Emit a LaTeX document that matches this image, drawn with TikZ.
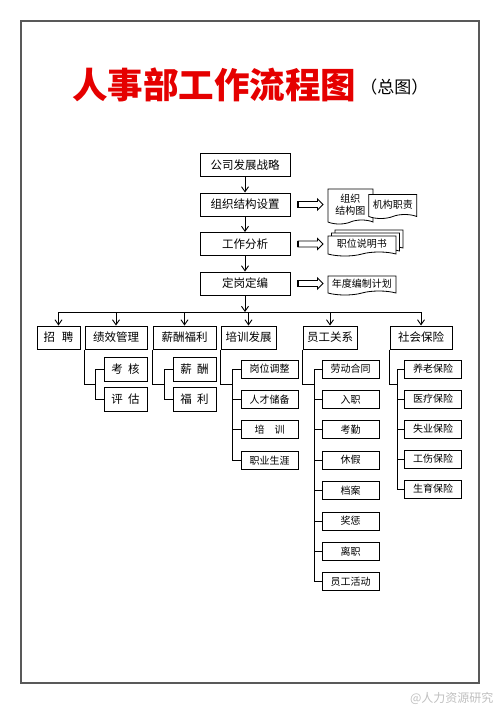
\documentclass[tikz,border=0pt]{standalone}
\usepackage{fontspec}
\setmainfont{Noto Sans CJK SC}
\usetikzlibrary{positioning, arrows.meta, calc, shapes.symbols, shapes.arrows, shadows}

\begin{document}
\begin{tikzpicture}[
    x=1pt, y=-1pt,
    >={Straight Barb[length=5pt, width=7pt]},
    font=\fontsize{11.5}{13}\selectfont,
    box/.style={
        rectangle, draw, line width=1pt,
        minimum width=90pt, minimum height=23pt,
        inner sep=0pt, align=center, fill=white
    },
    group/.style={
        rectangle, draw, line width=1pt,
        minimum height=23pt, inner sep=0pt, align=center
    },
    pair/.style={
        rectangle, draw, line width=1pt,
        minimum width=43pt, minimum height=24pt, inner sep=0pt
    },
    item/.style={
        rectangle, draw, line width=0.9pt,
        minimum width=57pt, minimum height=18pt, inner sep=0pt,
        font=\fontsize{10}{12}\selectfont
    },
    doc/.style={
        tape, tape bend top=none, tape bend height=4pt,
        draw, line width=0.8pt, fill=white,
        inner sep=1pt, align=center,
        font=\fontsize{10}{11.5}\selectfont
    },
    hollow/.style={
        single arrow, draw, line width=0.8pt, fill=white,
        minimum height=25pt, inner xsep=0pt, inner ysep=2.6pt,
        single arrow head extend=2.6pt, single arrow head indent=0pt
    },
    arrow/.style={->, line width=0.9pt},
    link/.style={line width=0.9pt}
]

\useasboundingbox (0,0) rectangle (500,707);

%% ─── FRAME + TITLE ──────────────────────────────────────────────────────

\draw[line width=2pt, draw=black!65] (21,21) rectangle (479,683);

\node[inner sep=0pt, text=red!90!black,
      font=\fontsize{35.5}{35.5}\selectfont\bfseries] (title) at (214,85)
    {人事部工作流程图};
\node[inner sep=0pt, anchor=west, font=\fontsize{17}{17}\selectfont]
    (whole) at ([xshift=4pt, yshift=-2pt]title.east) {（总图）};

%% ─── MAIN CHAIN ─────────────────────────────────────────────────────────

\node[box]                       (strat)  at (245,165) {公司发展战略};
\node[box, below=15.5pt of strat] (org)    {组织结构设置};
\node[box, below=15.5pt of org]   (job)    {工作分析};
\node[box, below=15.5pt of job]   (quota)  {定岗定编};

%% ─── OUTPUT DOCUMENTS ───────────────────────────────────────────────────

\node[hollow] (h1) at ($(org.east)+(18.5,0)$)   {};
\node[hollow] (h2) at ($(job.east)+(18.5,0)$)   {};
\node[hollow] (h3) at ($(quota.east)+(18.5,0)$) {};

% thick tail ends of the hollow arrows
\draw[line width=2.2pt] (h1.before tail) -- (h1.after tail);
\draw[line width=2.2pt] (h2.before tail) -- (h2.after tail);
\draw[line width=2.2pt] (h3.before tail) -- (h3.after tail);

\node[doc, minimum width=45pt, minimum height=35pt, right=4pt of h1]
    (chart) {组织\\结构图};
\node[doc, minimum width=48pt, minimum height=24pt, right=-5pt of chart]
    (duty) {机构职责};
\node[doc, minimum width=68pt, minimum height=20pt, right=4pt of h2,
      double copy shadow={shadow xshift=3.5pt, shadow yshift=3pt,
                          draw, fill=white, opacity=1}]
    (spec) {职位说明书};
\node[doc, minimum width=68pt, minimum height=19pt, right=4pt of h3]
    (yearly) {年度编制计划};

%% ─── CHAIN ARROWS ───────────────────────────────────────────────────────

\coordinate (bus) at (245,312);

\draw[arrow] (strat) -- (org);
\draw[arrow] (org)   -- (job);
\draw[arrow] (job)   -- (quota);
\draw[arrow] (quota) -- (bus);

%% ─── FUNCTION ROW ───────────────────────────────────────────────────────

\node[group, minimum width=43pt] (recruit) at (58.5,337.5)  {招\hspace{0.6em}聘};
\node[group, minimum width=62pt] (perf)    at (116,337.5)   {绩效管理};
\node[group, minimum width=63pt] (pay)     at (184.5,337.5) {薪酬福利};
\node[group, minimum width=55pt] (train)   at (248.5,337.5) {培训发展};
\node[group, minimum width=54pt] (rel)     at (330,337.5)   {员工关系};
\node[group, minimum width=62pt] (social)  at (421,337.5)   {社会保险};

\draw[link] (recruit.north |- bus) -- (social.north |- bus);

\draw[arrow] (recruit.north |- bus) -- (recruit);
\draw[arrow] (perf.north |- bus)    -- (perf);
\draw[arrow] (pay.north |- bus)     -- (pay);
\draw[arrow] (train.north |- bus)   -- (train);
\draw[arrow] (rel.north |- bus)     -- (rel);
\draw[arrow] (social.north |- bus)  -- (social);

%% ─── PERFORMANCE + PAY ──────────────────────────────────────────────────

\node[pair]                     (assess) at (125.5,369) {考\hspace{0.45em}核};
\node[pair, below=5pt of assess] (review) {评\hspace{0.45em}估};

\node[pair]                     (salary) at (194.5,369) {薪\hspace{0.45em}酬};
\node[pair, below=5pt of salary] (bonus)  {福\hspace{0.45em}利};

\coordinate (perfj) at ($(assess.west)!0.5!(review.west)+(-8,0)$);
\coordinate (payj)  at ($(salary.west)!0.5!(bonus.west)+(-8,0)$);

\draw[link] (perf.south west) |- (perfj);
\draw[link] (assess.west) -- ++(-8,0) |- (review.west);

\draw[link] (pay.south west) |- (payj);
\draw[link] (salary.west) -- ++(-8,0) |- (bonus.west);

%% ─── TRAINING ───────────────────────────────────────────────────────────

\node[item]                       (post)   at (269.5,369) {岗位调整};
\node[item, below=11.5pt of post]   (talent) {人才储备};
\node[item, below=11.5pt of talent] (coach)  {培\hspace{1em}训};
\node[item, below=11.5pt of coach]  (career) {职业生涯};

\coordinate (trainj) at ($(post.west)!0.5!(talent.west)+(-8,0)$);

\draw[link] (train.south west) |- (trainj);
\draw[link] (post.west) -- ++(-8,0) |- (career.west);
\draw[link] (talent.west) -- ++(-8,0);
\draw[link] (coach.west)  -- ++(-8,0);

%% ─── EMPLOYEE RELATIONS ─────────────────────────────────────────────────

\node[item]                        (contract) at (350.5,369) {劳动合同};
\node[item, below=11.5pt of contract] (entry)    {入职};
\node[item, below=11.5pt of entry]    (attend)   {考勤};
\node[item, below=11.5pt of attend]   (leave)    {休假};
\node[item, below=11.5pt of leave]    (files)    {档案};
\node[item, below=11.5pt of files]    (reward)   {奖惩};
\node[item, below=11.5pt of reward]   (quit)     {离职};
\node[item, below=11.5pt of quit]     (events)   {员工活动};

\coordinate (relj) at ($(contract.west)!0.5!(entry.west)+(-7,0)$);

\draw[link] (rel.south west) |- (relj);
\draw[link] (contract.west) -- ++(-7,0) |- (events.west);
\draw[link] (entry.west)  -- ++(-7,0);
\draw[link] (attend.west) -- ++(-7,0);
\draw[link] (leave.west)  -- ++(-7,0);
\draw[link] (files.west)  -- ++(-7,0);
\draw[link] (reward.west) -- ++(-7,0);
\draw[link] (quit.west)   -- ++(-7,0);

%% ─── SOCIAL INSURANCE ───────────────────────────────────────────────────

\node[item]                          (pension)   at (433,369) {养老保险};
\node[item, below=11.1pt of pension]   (medical)   {医疗保险};
\node[item, below=11.1pt of medical]   (jobless)   {失业保险};
\node[item, below=11.1pt of jobless]   (injury)    {工伤保险};
\node[item, below=11.1pt of injury]    (maternity) {生育保险};

\coordinate (socj) at ($(pension.west)!0.5!(medical.west)+(-7,0)$);

\draw[link] (social.south west) |- (socj);
\draw[link] (pension.west) -- ++(-7,0) |- (maternity.west);
\draw[link] (medical.west) -- ++(-7,0);
\draw[link] (jobless.west) -- ++(-7,0);
\draw[link] (injury.west)  -- ++(-7,0);

%% ─── WATERMARK ──────────────────────────────────────────────────────────

\node[anchor=east, text=black!25, font=\fontsize{12}{12}\selectfont]
    (mark) at (497,698) {@人力资源研究};

\end{tikzpicture}
\end{document}
